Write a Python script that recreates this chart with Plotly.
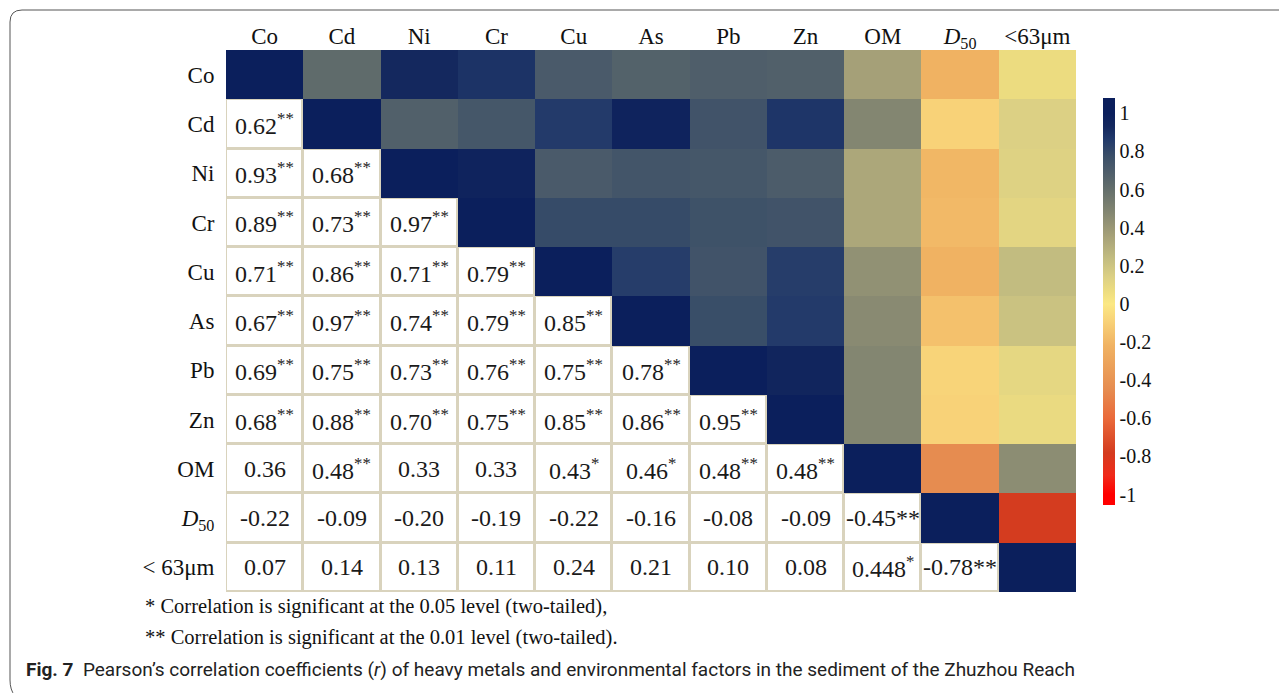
import plotly.graph_objects as go

# ---------------- data ----------------
labels_top = ["Co", "Cd", "Ni", "Cr", "Cu", "As", "Pb", "Zn", "OM", "<i>D</i><sub>50</sub>", "&lt;63μm"]
labels_left = ["Co", "Cd", "Ni", "Cr", "Cu", "As", "Pb", "Zn", "OM", "<i>D</i><sub>50</sub>", "&lt; 63μm"]

# lower-triangle coefficients (row i, columns 0..i-1), as printed
r_text = [
    [],
    ["0.62"],
    ["0.93", "0.68"],
    ["0.89", "0.73", "0.97"],
    ["0.71", "0.86", "0.71", "0.79"],
    ["0.67", "0.97", "0.74", "0.79", "0.85"],
    ["0.69", "0.75", "0.73", "0.76", "0.75", "0.78"],
    ["0.68", "0.88", "0.70", "0.75", "0.85", "0.86", "0.95"],
    ["0.36", "0.48", "0.33", "0.33", "0.43", "0.46", "0.48", "0.48"],
    ["-0.22", "-0.09", "-0.20", "-0.19", "-0.22", "-0.16", "-0.08", "-0.09", "-0.45"],
    ["0.07", "0.14", "0.13", "0.11", "0.24", "0.21", "0.10", "0.08", "0.448", "-0.78"],
]
# significance markers
sig = [
    [],
    ["**"],
    ["**", "**"],
    ["**", "**", "**"],
    ["**", "**", "**", "**"],
    ["**", "**", "**", "**", "**"],
    ["**", "**", "**", "**", "**", "**"],
    ["**", "**", "**", "**", "**", "**", "**"],
    ["", "**", "", "", "*", "*", "**", "**"],
    ["", "", "", "", "", "", "", "", "**"],
    ["", "", "", "", "", "", "", "", "*", "**"],
]
# markers printed inline (not superscript)
inline_marks = [(9, 8), (10, 9)]

footnote1 = "* Correlation is significant at the 0.05 level (two-tailed),"
footnote2 = "** Correlation is significant at the 0.01 level (two-tailed)."
caption = "<b>Fig. 7</b>  Pearson’s correlation coefficients (<i>r</i>) of heavy metals and environmental factors in the sediment of the Zhuzhou Reach"

cbar_vals = [1, 0.8, 0.6, 0.4, 0.2, 0, -0.2, -0.4, -0.6, -0.8, -1]
cbar_text = ["1", "0.8", "0.6", "0.4", "0.2", "0", "-0.2", "-0.4", "-0.6", "-0.8", "-1"]

# ---------------- build matrices ----------------
n = len(labels_top)
r = [[None] * n for _ in range(n)]
for i in range(n):
    r[i][i] = 1.0
    for j, t in enumerate(r_text[i]):
        r[i][j] = float(t)
        r[j][i] = float(t)

z_up = [[r[i][j] if j >= i else None for j in range(n)] for i in range(n)]
z_low = [[0 if j < i else None for j in range(n)] for i in range(n)]

ZMIN, ZMAX = -1.055, 1.08
stops = [
    (-1.0, "#ff0000"), (-0.9, "#f02a1a"), (-0.78, "#d43c1f"), (-0.6, "#ea6a3a"),
    (-0.45, "#e68c50"), (-0.22, "#f0b262"),
    (-0.09, "#f8d278"), (0.0, "#fbe884"), (0.07, "#ecdc80"), (0.14, "#dcd084"),
    (0.24, "#c2bc80"), (0.36, "#a5a078"), (0.48, "#838671"), (0.62, "#5f6b6b"),
    (0.71, "#4a5a6a"), (0.77, "#3c5068"), (0.87, "#20386a"), (0.93, "#14285e"),
    (1.0, "#0b1f5c"),
]
cs = [[0.0, stops[0][1]]]
for v, c in stops:
    cs.append([(v - ZMIN) / (ZMAX - ZMIN), c])
cs.append([1.0, stops[-1][1]])

# ---------------- geometry helpers (reference pixels -> paper) ----------------
OFF = 8  # page body margin
W, H = 1287 - OFF, 693 - OFF
L, R, T, B = 226 - OFF, 1076 - OFF, 50 - OFF, 592 - OFF
def px(x):
    return (x - OFF - L) / (R - L)
def py(y):
    return (B - (y - OFF)) / (B - T)

SERIF = "Liberation Serif"
fig = go.Figure()
fig.add_trace(go.Heatmap(
    z=z_up, x=list(range(n)), y=list(range(n)), zmin=ZMIN, zmax=ZMAX,
    colorscale=cs, hoverinfo="skip",
    colorbar=dict(
        x=px(1103), xanchor="left", y=py((98 + 505) / 2), yanchor="middle",
        len=(505 - 98) / (B - T), lenmode="fraction", thickness=12,
        tickvals=cbar_vals, ticktext=cbar_text, ticks="", outlinewidth=0,
        tickfont=dict(family=SERIF, size=20, color="#111"),
        xpad=0, ypad=0,
    ),
))
fig.add_trace(go.Heatmap(
    z=z_low, x=list(range(n)), y=list(range(n)), zmin=0, zmax=1,
    colorscale=[[0, "white"], [1, "white"]], showscale=False,
    xgap=3, ygap=3, hoverinfo="skip",
))

ann = []
for i in range(n):
    for j, t in enumerate(r_text[i]):
        s = sig[i][j]
        if (i, j) in inline_marks:
            txt = t + s
        elif s:
            txt = t + "<sup>" + s + "</sup>"
        else:
            txt = t
        ann.append(dict(x=j, y=i, xref="x", yref="y", text=txt, showarrow=False,
                        font=dict(family=SERIF, size=24, color="#1a1a1a")))

ann.append(dict(x=px(143), y=py(606), xref="paper", yref="paper", xanchor="left", yanchor="middle",
                text=footnote1, showarrow=False,
                font=dict(family=SERIF, size=20.5, color="#111")))
ann.append(dict(x=px(143), y=py(637), xref="paper", yref="paper", xanchor="left", yanchor="middle",
                text=footnote2, showarrow=False,
                font=dict(family=SERIF, size=20.5, color="#111")))
ann.append(dict(x=px(24), y=py(669), xref="paper", yref="paper", xanchor="left", yanchor="middle",
                text=caption, showarrow=False,
                font=dict(family="Roboto, sans-serif", size=19, color="#222")))

frame = ("M {a},{b} L {c},{b} Q {d},{b} {d},{e} L {d},{f} Q {d},{g} {h},{i}").format(
    a=px(1300), b=py(10), c=px(22), d=px(10), e=py(22), f=py(680), g=py(690), h=px(15), i=py(696))

fig.update_layout(
    width=W, height=H,
    margin=dict(l=L, r=W - R, t=T, b=H - B),
    paper_bgcolor="white", plot_bgcolor="#d9d3bd",
    annotations=ann,
    shapes=[dict(type="path", path=frame, xref="paper", yref="paper",
                 line=dict(color="#555", width=1))],
    xaxis=dict(side="top", tickvals=list(range(n)), ticktext=labels_top, range=[-0.5, n - 0.5],
               showgrid=False, zeroline=False, ticks="", showline=False,
               tickfont=dict(family=SERIF, size=23, color="#111")),
    yaxis=dict(tickvals=list(range(n)), ticktext=labels_left, range=[n - 0.5, -0.5],
               showgrid=False, zeroline=False, ticks="outside", ticklen=6, tickcolor="rgba(0,0,0,0)",
               showline=False,
               tickfont=dict(family=SERIF, size=23, color="#111")),
)

fig.write_html("out.html")
